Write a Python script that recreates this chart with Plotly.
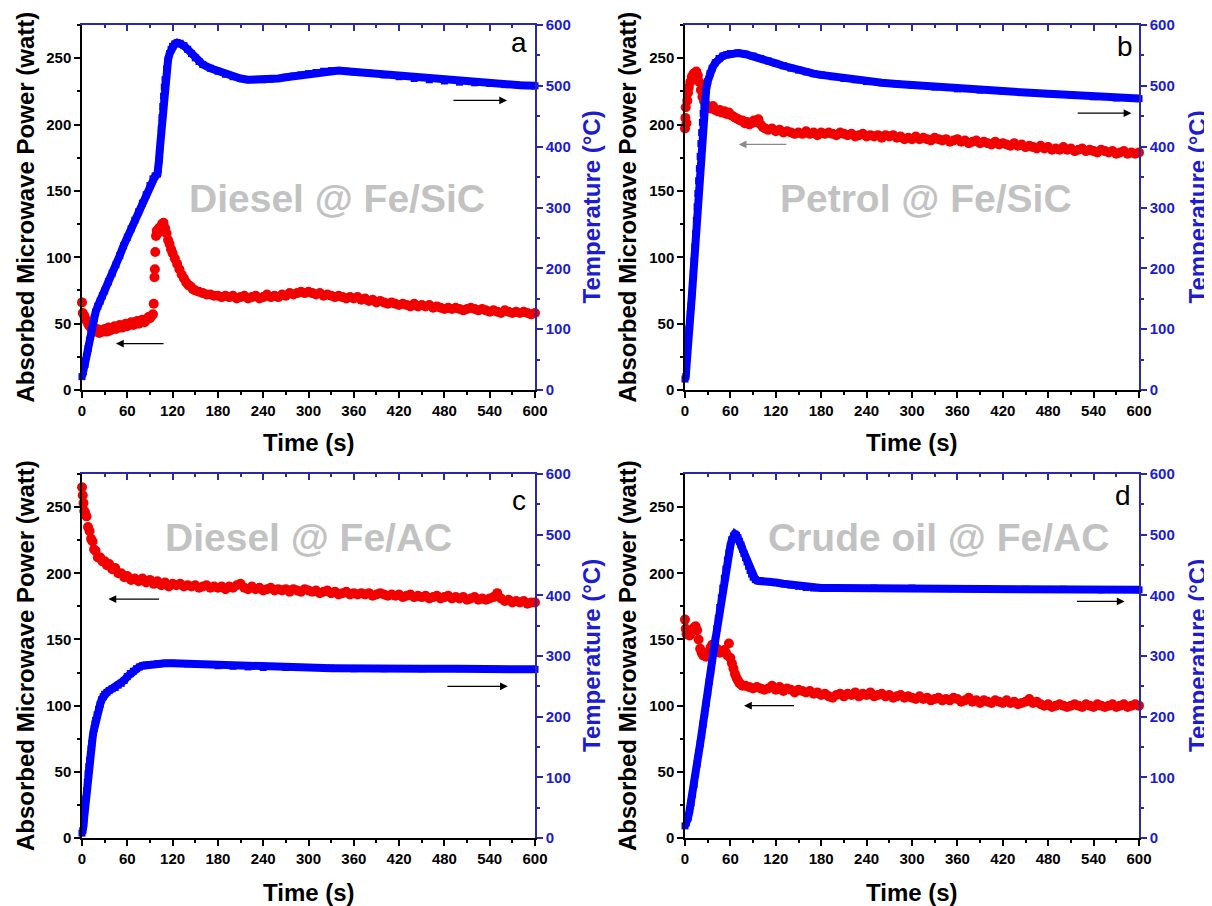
import plotly.graph_objects as go

# ---------------- data ----------------
# Panel a : Diesel @ Fe/SiC
time_a_power = [0, 1, 3, 5, 8, 10, 13, 15, 18, 20, 23, 25, 28, 30, 33, 35, 38, 40, 43, 45,
                48, 50, 53, 55, 58, 60, 63, 65, 68, 70, 73, 75, 78, 80, 83, 85, 88, 90, 92, 94,
                95, 96, 96.5, 97, 98, 99, 100, 102, 104, 106, 108, 110, 112, 114, 116, 118, 120,
                123, 126, 129, 132, 135, 138, 141, 144, 147, 150] + list(range(155, 601, 5))
power_a = [66, 58, 56, 53, 50, 48, 46, 45, 44, 46, 43, 45, 44, 46, 44, 47, 45, 46, 48, 46,
           47, 49, 47, 48, 50, 48, 50, 51, 49, 51, 52, 50, 52, 53, 51, 53, 55, 54, 56, 57,
           65, 85, 91, 104, 116, 120, 118, 122, 120, 125, 126, 122, 118, 113, 110, 106, 103,
           99, 95, 91, 87, 84, 81, 79, 78, 76, 75,
           74, 73, 72, 72, 71, 71, 70, 71, 70, 71,
           69, 70, 71, 69, 70, 71, 69, 70, 72, 70,
           71, 70, 72, 71, 73, 72, 73, 74, 73, 74,
           73, 72, 73, 71, 72, 71, 70, 71, 70, 69,
           70, 69, 70, 68, 69, 67, 68, 66, 67, 66,
           65, 66, 65, 64, 65, 64, 63, 65, 63, 64,
           63, 64, 62, 63, 62, 61, 62, 61, 62, 61,
           60, 61, 62, 61, 60, 61, 60, 59, 60, 59,
           58, 60, 59, 58, 59, 58, 59, 58, 57, 58]
time_a_temp = [0, 2, 4, 6, 8, 10, 12, 14, 16, 18, 21, 24, 27, 30, 35, 40, 45, 50, 55, 60,
               65, 70, 75, 80, 85, 90, 94, 97, 100, 101, 102, 103, 104, 105, 106, 107, 108, 109,
               110, 112, 114, 116, 118, 120, 123, 126, 130, 135, 140, 145, 150, 155, 160, 170,
               180, 190, 200, 210, 220, 230, 240, 250, 260, 270, 280, 290, 300, 310, 320, 330,
               340, 350, 360, 380, 400, 420, 440, 460, 480, 500, 520, 540, 560, 580, 600]
temp_a = [22, 30, 42, 55, 68, 82, 95, 107, 118, 128, 138, 146, 155, 163, 178, 192, 206, 221, 237, 251,
          265, 279, 293, 307, 321, 336, 347, 352, 355, 362, 378, 395, 412, 430, 448, 466, 483, 498,
          510, 528, 543, 553, 560, 565, 569, 571, 570, 566, 560, 553, 546, 540, 535, 529,
          524, 519, 515, 512, 510, 510, 510, 511, 512, 514, 516, 518, 520, 522, 524, 525,
          525, 524, 523, 521, 518, 515, 512, 510, 508, 506, 505, 504, 502, 501, 500]

# Panel b : Petrol @ Fe/SiC
time_b_power = [0, 0.5, 1, 2, 3, 4, 5, 7, 9, 11, 13, 15, 17, 19, 21, 23, 25, 28, 31, 34,
                37, 40, 43, 46, 49, 52, 55, 58, 61, 64, 67, 70, 73, 76, 79, 82, 85, 88, 91, 94,
                97, 100, 103, 106, 110, 115, 120, 125, 130, 135, 140, 145] + list(range(150, 601, 5))
power_b = [197, 205, 213, 201, 218, 224, 228, 232, 236, 238, 239, 240, 237, 232, 226, 221, 218, 215, 213, 212,
           214, 211, 210, 211, 209, 210, 208, 209, 207, 206, 205, 204, 203, 203, 201, 202, 200, 201, 203, 202,
           204, 200, 198, 197, 196, 197, 195, 196, 194, 195, 194, 193,
           194, 193, 195, 193, 194, 192, 194, 193, 194, 193,
           192, 194, 193, 192, 193, 191, 192, 193, 191, 192,
           191, 192, 190, 192, 191, 192, 190, 191, 189, 190,
           189, 191, 189, 190, 189, 188, 190, 189, 188, 189,
           187, 188, 189, 187, 188, 186, 187, 188, 186, 187,
           186, 185, 187, 185, 186, 185, 184, 186, 184, 185,
           183, 184, 183, 182, 184, 182, 183, 181, 182, 181,
           183, 181, 182, 180, 181, 182, 180, 181, 180, 179,
           181, 180, 179, 180, 178, 179, 180, 178, 179, 178,
           179]
time_b_temp = [0, 1, 2, 3, 4, 5, 6, 7, 8, 9, 10, 11, 12, 13, 14, 15, 16, 17, 18, 19, 20, 21, 22,
               23, 24, 25, 26, 28, 30, 33, 36, 40, 45, 50, 55, 60, 70, 80, 90, 100, 110, 120,
               130, 140, 150, 160, 170, 180, 195, 210, 225, 240, 260, 280, 300, 330, 360, 390,
               420, 450, 480, 510, 540, 570, 600]
temp_b = [18, 22, 40, 65, 88, 100, 112, 124, 138, 154, 172, 192, 213, 235, 257, 279, 301, 323, 344, 364,
          384, 405, 423, 440, 455, 467, 477, 494, 507, 520, 529, 538, 545, 549, 551, 553, 554, 552,
          549, 545, 541, 537, 533, 529, 526, 523, 520, 518, 515, 512, 510, 507, 505, 503, 501, 498,
          495, 493, 491, 489, 487, 485, 482, 480, 479]

# Panel c : Diesel @ Fe/AC
time_c_power = [0, 1, 2, 3, 4, 6, 8, 10, 12, 14, 16, 18, 21, 24, 27, 30, 33, 36, 40, 44,
                48, 52, 56, 60, 65, 70, 75, 80, 85, 90, 95, 100, 105, 110, 115] + list(range(120, 601, 5))
power_c = [265, 259, 253, 247, 246, 243, 235, 232, 226, 224, 218, 217, 212, 212, 209, 209, 206, 207, 203, 204,
           200, 200, 197, 198, 195, 196, 194, 196, 193, 195, 192, 194, 191, 193, 190,
           192, 191, 192, 190, 191, 190, 191, 189, 190, 191,
           189, 190, 189, 190, 188, 190, 189, 191, 192, 189,
           188, 190, 188, 189, 187, 188, 189, 187, 188, 187,
           188, 186, 188, 187, 186, 188, 187, 186, 187, 185,
           186, 187, 185, 186, 184, 185, 186, 184, 185, 184,
           185, 184, 185, 183, 184, 185, 184, 183, 184, 183,
           184, 182, 183, 184, 182, 183, 182, 183, 181, 182,
           183, 181, 182, 183, 181, 182, 181, 182, 180, 181,
           182, 180, 181, 180, 181, 182, 185, 181, 179, 180,
           178, 179, 178, 179, 177, 178, 178]
time_c_temp = [0, 1, 2, 3, 4, 5, 6, 7, 8, 9, 10, 11, 12, 13, 14, 15, 16, 17, 18, 20, 22, 24, 26,
               28, 30, 33, 36, 40, 44, 48, 52, 56, 60, 64, 68, 72, 76, 80, 85, 90, 100, 110, 120,
               140, 160, 180, 200, 220, 240, 270, 300, 330, 360, 400, 450, 500, 550, 600]
temp_c = [8, 12, 20, 35, 50, 64, 78, 92, 106, 118, 128, 137, 147, 156, 165, 174, 181, 188, 194,
          203, 212, 220, 228, 233, 237, 240, 243, 246, 248, 252, 255, 260, 266, 271, 275, 279,
          282, 284, 285, 286, 287, 288, 288, 287, 286, 284, 283, 282, 281, 281, 281, 280, 279,
          279, 279, 279, 278, 278]

# Panel d : Crude oil @ Fe/AC
time_d_power = [0, 1, 2, 4, 6, 8, 10, 12, 14, 16, 18, 20, 22, 24, 26, 28, 30, 32, 34, 36,
                38, 40, 42, 44, 46, 48, 50, 52, 54, 56, 58, 60, 62, 64, 66, 68, 70, 72, 74, 76,
                80, 85, 90, 95, 100, 105, 110, 115] + list(range(120, 601, 5))
power_d = [165, 158, 154, 156, 153, 155, 157, 159, 160, 157, 150, 143, 140, 138, 139, 137, 138, 141, 144, 146,
           145, 144, 143, 142, 140, 141, 141, 142, 140, 138, 147, 136, 132, 128, 124, 121, 119, 117, 116, 115,
           115, 114, 113, 114, 113, 112, 113, 115,
           112, 114, 111, 113, 112, 110, 112, 111, 110, 111,
           109, 110, 108, 109, 107, 106, 108, 109, 107, 109,
           108, 110, 107, 109, 108, 110, 107, 108, 109, 107,
           108, 106, 107, 108, 106, 107, 106, 105, 107, 105,
           106, 104, 105, 106, 104, 105, 104, 106, 105, 103,
           104, 106, 103, 104, 102, 104, 103, 102, 104, 103,
           102, 104, 102, 103, 101, 102, 103, 105, 102, 103,
           101, 100, 101, 99, 100, 101, 100, 99, 100, 101,
           100, 99, 101, 100, 99, 101, 100, 99, 100, 101,
           99, 100, 101, 99, 100, 101, 100]
time_d_temp = [0, 2, 4, 6, 8, 10, 12, 14, 16, 18, 20, 22, 24, 26, 28, 30, 32, 34, 36, 38, 40, 42,
               44, 46, 48, 50, 52, 54, 56, 58, 60, 62, 64, 66, 68, 70, 72, 74, 76, 78, 80, 82, 84,
               86, 88, 90, 93, 96, 100, 110, 120, 130, 140, 150, 160, 170, 180, 200, 250, 300, 350,
               400, 450, 500, 550, 600]
temp_d = [20, 25, 33, 45, 58, 72, 88, 105, 122, 140, 155, 170, 188, 205, 222, 240, 258, 275, 293, 310,
          327, 345, 362, 380, 396, 412, 428, 443, 458, 470, 482, 492, 498, 501, 499, 495, 489, 483,
          476, 469, 462, 455, 448, 441, 435, 430, 426, 424, 424, 423, 421, 419, 417, 415, 413, 412,
          412, 412, 412, 412, 411, 411, 410, 410, 409, 409]

# axis ticks
time_ticks = [0, 60, 120, 180, 240, 300, 360, 420, 480, 540, 600]
power_ticks = [0, 50, 100, 150, 200, 250]
temp_ticks = [0, 100, 200, 300, 400, 500, 600]

panel_labels = ["a", "b", "c", "d"]
panel_names = ["Diesel @ Fe/SiC", "Petrol @ Fe/SiC", "Diesel @ Fe/AC", "Crude oil @ Fe/AC"]

# ---------------- styling / layout ----------------
# the page body keeps an 8 px margin, so the figure is drawn 8 px smaller and
# every screen position below is shifted by that offset
OFF = 8
W, H = 1212 - OFF, 906 - OFF
FONT = "Liberation Sans, Arial, Helvetica, sans-serif"
RED = "#f20000"
BLUE = "#0000ff"
AXBLUE = "#2a2aa8"
TXTBLUE = "#1c1cd0"
GREY = "#c2c2c2"

series = [
    (time_a_power, power_a, time_a_temp, temp_a),
    (time_b_power, power_b, time_b_temp, temp_b),
    (time_c_power, power_c, time_c_temp, temp_c),
    (time_d_power, power_d, time_d_temp, temp_d),
]

# screen geometry of each plot area (left, right, top, bottom)
boxes = [(82, 535, 25, 390), (685, 1139, 25, 390),
         (82, 535, 474, 838), (685, 1139, 474, 838)]
letter_pos = [(519, 43), (1125, 46), (519, 500), (1123, 495)]
name_pos = [(337, 198), (926, 198), (308, 537), (938, 537)]
ltitle_x = [25, 627, 25, 627]
rtitle_x = [591, 1197, 591, 1197]
time_title_y = [442, 442, 892, 892]
# arrows: (side, head_t, head_v, tail_t, tail_v, colour)
arrows = [
    [("L", 45, 35, 110, 35, "black"), ("R", 563, 476, 490, 476, "black")],
    [("L", 71, 185, 136, 185, "#8a8a8a"), ("R", 590, 455, 517, 455, "black")],
    [("L", 35, 180.5, 104, 180.5, "black"), ("R", 564, 250, 482, 250, "black")],
    [("L", 78, 100, 146, 100, "black"), ("R", 581, 390, 516, 390, "black")],
]


def ax_name(kind, n):
    return f"{kind}axis" if n == 1 else f"{kind}axis{n}"


def ax_ref(kind, n):
    return kind if n == 1 else f"{kind}{n}"


def px(x):
    return (x - OFF) / W


def py(y):
    return 1 - (y - OFF) / H


fig = go.Figure()
layout = {}
annotations = []
tickfont_black = dict(family=FONT, size=15, color="black", weight="bold")
tickfont_blue = dict(family=FONT, size=15, color=TXTBLUE, weight="bold")

for i in range(4):
    xb = i + 1          # bottom x
    xt = i + 5          # top x (blue frame)
    yl = 2 * i + 1      # left y
    yr = 2 * i + 2      # right y
    l, r, t, b = boxes[i]
    tp, p, tt, tv = series[i]

    fig.add_trace(go.Scatter(
        x=tp, y=p, mode="markers", xaxis=ax_ref("x", xb), yaxis=ax_ref("y", yl),
        marker=dict(symbol="circle", size=10, color=RED, line=dict(width=0)),
        cliponaxis=False, showlegend=False, hoverinfo="skip"))
    fig.add_trace(go.Scatter(
        x=tt, y=tv, mode="lines+markers", xaxis=ax_ref("x", xb), yaxis=ax_ref("y", yr),
        line=dict(color=BLUE, width=8), marker=dict(symbol="square", size=7, color=BLUE),
        cliponaxis=False, showlegend=False, hoverinfo="skip"))
    fig.add_trace(go.Scatter(
        x=[None], y=[None], xaxis=ax_ref("x", xt), yaxis=ax_ref("y", yl),
        showlegend=False, hoverinfo="skip"))

    layout[ax_name("x", xb)] = dict(
        domain=[px(l), px(r)], anchor=ax_ref("y", yl), range=[0, 600], automargin=False,
        tickmode="array", tickvals=time_ticks, ticks="outside", ticklen=6, tickwidth=1.5,
        tickcolor="black", showline=True, linecolor="black", linewidth=1.5,
        showgrid=False, zeroline=False, tickfont=tickfont_black,
        minor=dict(dtick=30, tick0=0, ticks="outside", ticklen=3, tickwidth=1.5, tickcolor="black"))
    layout[ax_name("x", xt)] = dict(
        overlaying=ax_ref("x", xb), anchor=ax_ref("y", yl), side="top", range=[0, 600],
        automargin=False,
        tickmode="array", tickvals=time_ticks, ticks="inside", ticklen=6, tickwidth=1.5,
        tickcolor=AXBLUE, showline=True, linecolor=AXBLUE, linewidth=1.5,
        showticklabels=False, showgrid=False, zeroline=False,
        minor=dict(dtick=30, tick0=0, ticks="inside", ticklen=3, tickwidth=1.5, tickcolor=AXBLUE))
    layout[ax_name("y", yl)] = dict(
        domain=[py(b), py(t)], anchor=ax_ref("x", xb), range=[0, 275], automargin=False,
        tickmode="array", tickvals=power_ticks, ticks="outside", ticklen=6, tickwidth=1.5,
        tickcolor="black", showline=True, linecolor="black", linewidth=1.5,
        showgrid=False, zeroline=False, tickfont=tickfont_black,
        minor=dict(dtick=25, tick0=0, ticks="outside", ticklen=3, tickwidth=1.5, tickcolor="black"))
    layout[ax_name("y", yr)] = dict(
        overlaying=ax_ref("y", yl), anchor=ax_ref("x", xb), side="right", range=[0, 600],
        automargin=False,
        tickmode="array", tickvals=temp_ticks, ticks="outside", ticklen=6, tickwidth=1.5,
        tickcolor=AXBLUE, showline=True, linecolor=AXBLUE, linewidth=1.5,
        showgrid=False, zeroline=False, tickfont=tickfont_blue,
        minor=dict(dtick=50, tick0=0, ticks="outside", ticklen=3, tickwidth=1.5, tickcolor=AXBLUE))

    # watermark name
    annotations.append(dict(
        x=px(name_pos[i][0]), y=py(name_pos[i][1]), xref="paper", yref="paper",
        text=panel_names[i], showarrow=False, xanchor="center", yanchor="middle",
        font=dict(family=FONT, size=39, color=GREY, weight="bold")))
    # panel letter
    annotations.append(dict(
        x=px(letter_pos[i][0]), y=py(letter_pos[i][1]), xref="paper", yref="paper",
        text=panel_labels[i], showarrow=False, xanchor="center", yanchor="middle",
        font=dict(family=FONT, size=28, color="black")))
    # axis titles
    cy = py((t + b) / 2)
    annotations.append(dict(
        x=px(ltitle_x[i]), y=cy, xref="paper", yref="paper", textangle=-90,
        text="Absorbed Microwave Power (watt)", showarrow=False,
        xanchor="center", yanchor="middle",
        font=dict(family=FONT, size=24, color="black", weight="bold")))
    annotations.append(dict(
        x=px(rtitle_x[i]), y=cy, xref="paper", yref="paper", textangle=-90,
        text="Temperature (°C)", showarrow=False,
        xanchor="center", yanchor="middle",
        font=dict(family=FONT, size=24, color=TXTBLUE, weight="bold")))
    annotations.append(dict(
        x=px((l + r) / 2), y=py(time_title_y[i]), xref="paper", yref="paper",
        text="Time (s)", showarrow=False, xanchor="center", yanchor="middle",
        font=dict(family=FONT, size=24, color="black", weight="bold")))
    # arrows
    for side, hx, hy, tx, ty, col in arrows[i]:
        yref = ax_ref("y", yl if side == "L" else yr)
        xref = ax_ref("x", xb)
        annotations.append(dict(
            x=hx, y=hy, ax=tx, ay=ty, xref=xref, yref=yref, axref=xref, ayref=yref,
            text="", showarrow=True, arrowhead=2, arrowsize=1.3, arrowwidth=1.2,
            arrowcolor=col))

fig.update_layout(
    width=W, height=H, margin=dict(l=0, r=0, t=0, b=0, pad=0), autosize=False,
    paper_bgcolor="white", plot_bgcolor="white", showlegend=False,
    annotations=annotations, **layout)

fig.write_html("out.html")
